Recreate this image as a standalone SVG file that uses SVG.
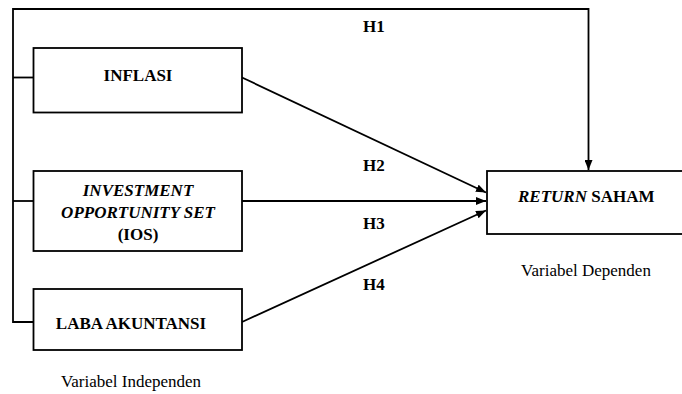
<svg xmlns="http://www.w3.org/2000/svg" width="682" height="394" viewBox="0 0 682 394" font-family="'Liberation Serif', 'DejaVu Serif', 'Times New Roman', serif">
<style>
.box{fill:#fff;stroke:#000;stroke-width:1.8}
.ln{fill:none;stroke:#000;stroke-width:1.8}
text{font-family:'Liberation Serif','DejaVu Serif','Times New Roman',serif;font-size:17px;fill:#000}
.b{font-weight:bold}
.i{font-style:italic}
</style>
<defs>
<marker id="ah" markerUnits="userSpaceOnUse" markerWidth="10" markerHeight="8" refX="10" refY="4" orient="auto">
<path d="M0,0 L10,4 L0,8 Z" fill="#000"/>
</marker>
</defs>
<rect width="682" height="394" fill="#fff"/>
<g id="connectors">
<path class="ln" d="M33.5,322 H13 V9 H588.5 V170" marker-end="url(#ah)"/>
<path class="ln" d="M13,77.5 H33.5"/>
<path class="ln" d="M13,201 H33.5"/>
<path class="ln" d="M242,77.5 L486,192.5" marker-end="url(#ah)"/>
<path class="ln" d="M242,201 L486,201" marker-end="url(#ah)"/>
<path class="ln" d="M242,322 L486,210.5" marker-end="url(#ah)"/>
<text class="b" x="363" y="32">H1</text>
<text class="b" x="363" y="171">H2</text>
<text class="b" x="363" y="229">H3</text>
<text class="b" x="363" y="290">H4</text>
</g>
<g id="inflasi">
<rect class="box" x="33.5" y="48" width="208.5" height="64.5"/>
<text class="b" x="138" y="81" text-anchor="middle">INFLASI</text>
</g>
<g id="ios">
<rect class="box" x="33.5" y="171" width="208.5" height="80"/>
<text class="b i" x="138" y="196" text-anchor="middle">INVESTMENT</text>
<text class="b i" x="138" y="218" text-anchor="middle">OPPORTUNITY SET</text>
<text class="b" x="138" y="240" text-anchor="middle">(IOS)</text>
</g>
<g id="laba">
<rect class="box" x="33.5" y="289" width="208.5" height="61"/>
<text class="b" x="131" y="329" text-anchor="middle">LABA AKUNTANSI</text>
</g>
<g id="return">
<rect class="box" x="487" y="171" width="205" height="63"/>
<text class="b" x="518" y="202"><tspan class="i">RETURN</tspan> SAHAM</text>
</g>
<g id="labels">
<text x="131" y="387" text-anchor="middle">Variabel Independen</text>
<text x="586" y="276" text-anchor="middle">Variabel Dependen</text>
</g>
</svg>
